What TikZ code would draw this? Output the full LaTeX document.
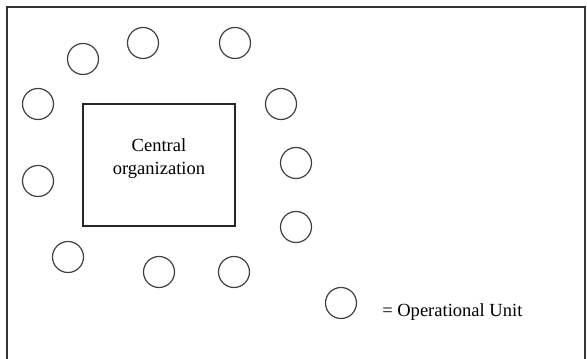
\documentclass[tikz,border=0pt]{standalone}
\usepackage{fontspec}
\setmainfont{Liberation Serif}
\begin{document}
\begin{tikzpicture}[
    x=0.75pt,y=-0.75pt,
    unit/.style={circle,draw=black!75,line width=0.9pt,minimum size=23.25pt,inner sep=0pt},
    orgbox/.style={draw=black!85,line width=0.8pt,align=center,
                   minimum width=114pt,minimum height=91.5pt,
                   text depth=12.5pt,font=\fontsize{13.9}{17.25}\selectfont},
    frame/.style={draw=black!80,line width=1.5pt}
  ]
    \useasboundingbox (0,0) rectangle (587,359);

    \draw[frame] (7,362) -- (7,7) -- (585,7) -- (585,362);

    \node[orgbox] (central) at (159,165) {Central\\organization};

    \node[unit] (unit1) at (83,59) {};
    \node[unit] (unit2) at (143,43) {};
    \node[unit] (unit3) at (235,43) {};
    \node[unit] (unit4) at (281,104) {};
    \node[unit] (unit5) at (296,163) {};
    \node[unit] (unit6) at (296,227) {};
    \node[unit] (unit7) at (234,272) {};
    \node[unit] (unit8) at (159,272) {};
    \node[unit] (unit9) at (68,257) {};
    \node[unit] (unit10) at (38,181) {};
    \node[unit] (unit11) at (38,104) {};

    \node[unit] (legend) at (341,303) {};
    \node[anchor=base west,inner sep=0pt,font=\fontsize{13.9}{17}\selectfont]
      (legendtext) at (382,317) {= Operational Unit};
  \end{tikzpicture}
\end{document}
